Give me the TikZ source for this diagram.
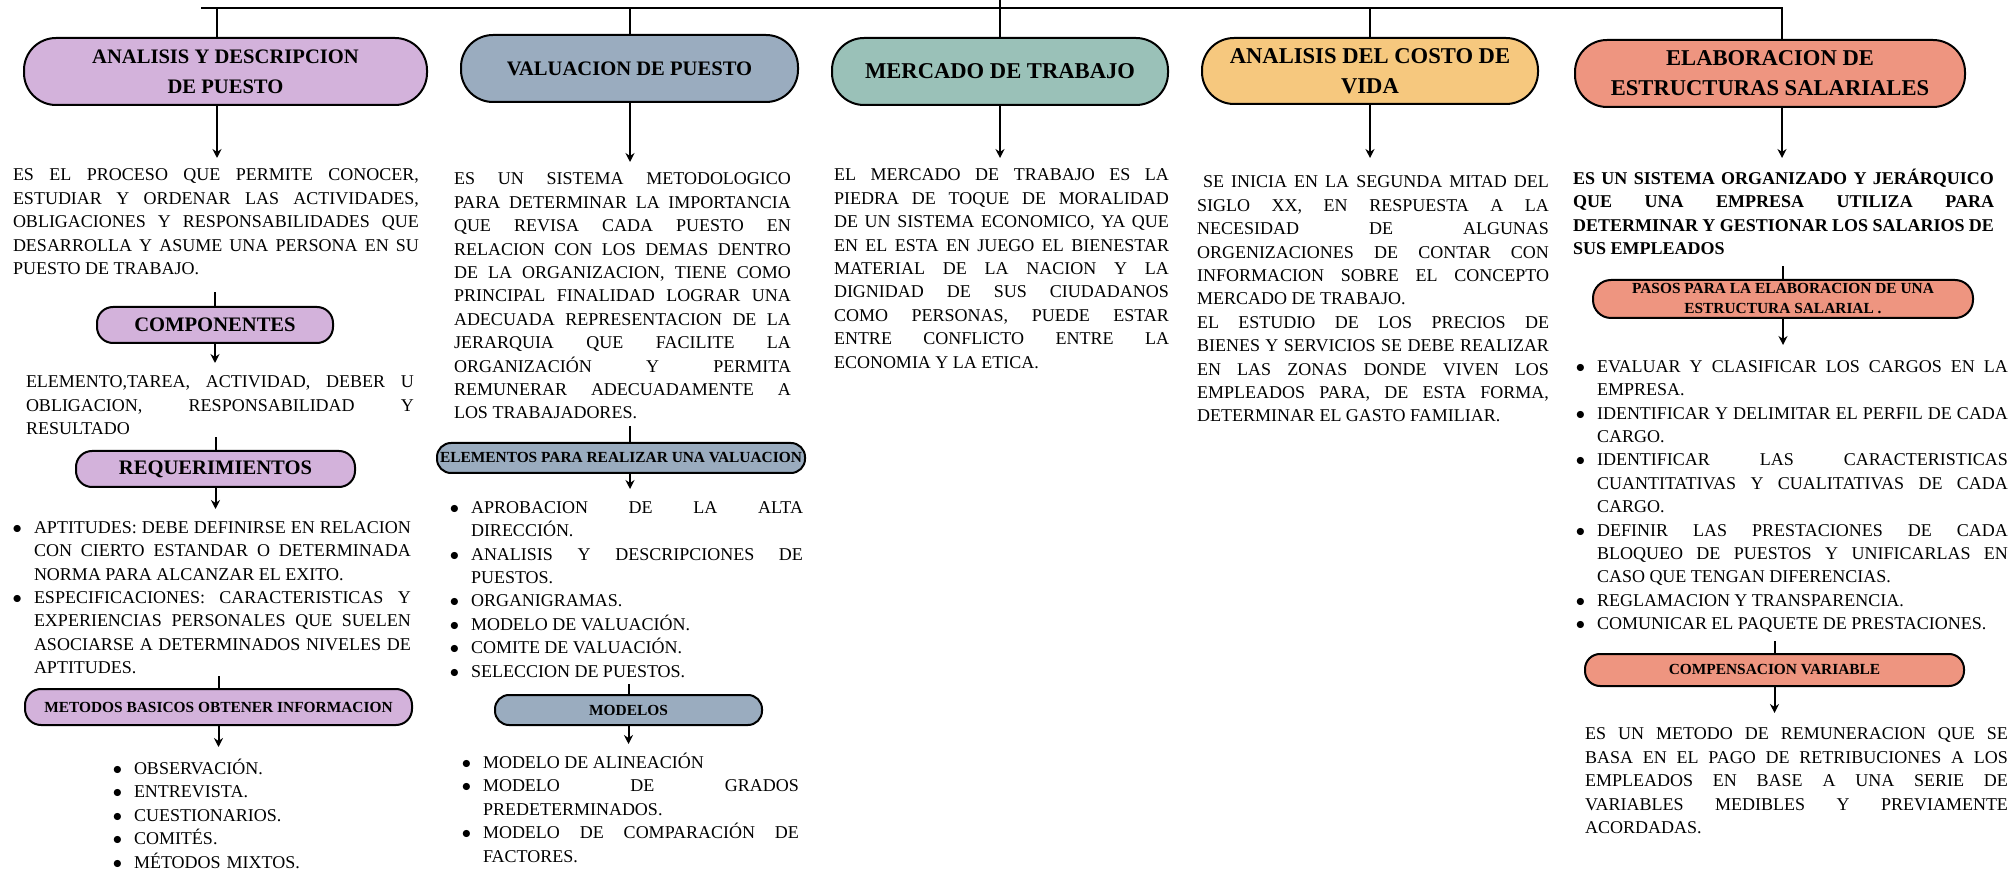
\documentclass[tikz,border=0pt]{standalone}
\usepackage{fontspec}
\setmainfont{Liberation Serif}
\usepackage{enumitem}
\usetikzlibrary{arrows.meta}
\definecolor{lav}{HTML}{D3B2DB}
\definecolor{slate}{HTML}{9AACBF}
\definecolor{sage}{HTML}{9AC1B8}
\definecolor{gold}{HTML}{F6C87E}
\definecolor{salmon}{HTML}{EE9580}
\setlist[itemize]{label=$\bullet$, nosep, labelsep=6pt}
\hyphenpenalty=10000
\tolerance=10000
\hbadness=10000
\tikzset{
	headbox/.style={draw, fill=#1, rounded corners=16pt, inner sep=0pt, minimum height=33.5pt, align=center, font=\fontsize{11.3}{15}\selectfont\bfseries},
	subbox/.style={draw, fill=#1, rounded corners=8pt, inner sep=0pt, minimum height=18pt, align=center, font=\fontsize{7.7}{10}\selectfont\bfseries},
	bodytext/.style={anchor=north west, inner sep=0pt, text width=#1, align=justify, font=\fontsize{9}{11.7}\selectfont}
}

\begin{document}
\begin{tikzpicture}[x=0.5pt, y=-0.5pt, line width=1pt, >={Stealth[length=4.5pt, width=4.5pt]}]
			\useasboundingbox (0,0) rectangle (2009,871);
			\coordinate (c1) at (217,0);
			\coordinate (c2) at (630,0);
			\coordinate (c3) at (1000,0);
			\coordinate (c4) at (1370,0);
			\coordinate (c5) at (1782,0);
			\coordinate (bl) at (201,8);
			\coordinate (br) at (1782,8);

			\node[headbox=lav, minimum width=201.5pt, font=\fontsize{10.3}{15}\selectfont\bfseries] (h1) at (225.5,71.5) {ANALISIS Y DESCRIPCION\\DE PUESTO};
			\node[headbox=slate, minimum width=168.5pt, font=\fontsize{10.3}{15}\selectfont\bfseries] (h2) at (629.5,68.5) {VALUACION DE PUESTO};
			\node[headbox=sage, minimum width=168pt] (h3) at (1000,71.5) {MERCADO DE TRABAJO};
			\node[headbox=gold, minimum width=168pt, minimum height=33pt] (h4) at (1370,71) {ANALISIS DEL COSTO DE\\VIDA};
			\node[headbox=salmon, minimum width=195pt] (h5) at (1770,73.5) {ELABORACION DE\\ESTRUCTURAS SALARIALES};

			\draw (bl) -- (br) -- (h5.north -| br);
			\draw (c1 |- bl) -- (h1.north -| c1);
			\draw (c2 |- bl) -- (h2.north -| c2);
			\draw (c3) -- (h3.north);
			\draw (c4 |- bl) -- (h4.north -| c4);

			\node[bodytext=203pt] (d1) at (12,168) {ES EL PROCESO QUE PERMITE CONOCER,\linebreak ESTUDIAR Y ORDENAR LAS ACTIVIDADES,\linebreak OBLIGACIONES Y RESPONSABILIDADES QUE\linebreak DESARROLLA Y ASUME UNA PERSONA EN SU\linebreak PUESTO DE TRABAJO.};
			\node[subbox=lav, minimum width=118pt, font=\fontsize{10.3}{12}\selectfont\bfseries] (k1) at (215,325) {COMPONENTES};
			\node[bodytext=194pt] (e1) at (25,375) {ELEMENTO,TAREA, ACTIVIDAD, DEBER U\linebreak OBLIGACION, RESPONSABILIDAD Y\linebreak RESULTADO};
			\node[subbox=lav, minimum width=139.5pt, font=\fontsize{10.3}{12}\selectfont\bfseries] (k2) at (215.5,469) {REQUERIMIENTOS};
			\node[bodytext=198.5pt] (r1) at (13,509) {\begin{itemize}[leftmargin=10pt]
				\item APTITUDES: DEBE DEFINIRSE EN RELACION\linebreak CON CIERTO ESTANDAR O DETERMINADA\linebreak NORMA PARA ALCANZAR EL EXITO.
				\item ESPECIFICACIONES: CARACTERISTICAS Y\linebreak EXPERIENCIAS PERSONALES QUE SUELEN\linebreak ASOCIARSE A DETERMINADOS NIVELES DE\linebreak APTITUDES.
			\end{itemize}};
			\node[subbox=lav, minimum width=193.5pt] (k7) at (218.5,707) {METODOS BASICOS OBTENER INFORMACION};
			\node[bodytext=160pt, align=left] (m1) at (115,750) {\begin{itemize}[leftmargin=9pt]
				\item OBSERVACIÓN.
				\item ENTREVISTA.
				\item CUESTIONARIOS.
				\item COMITÉS.
				\item MÉTODOS MIXTOS.
			\end{itemize}};

			\draw[->, shorten >=5pt] (h1.south -| c1) -- (d1.north -| c1);
			\draw (k1.north) -- ++(0,-14);
			\draw[->, shorten >=6pt] (k1.south) -- (e1.north -| k1.south);
			\draw (k2.north) -- ++(0,-13);
			\draw[->] (k2.south) -- (r1.north -| k2.south);
			\draw (k7.north) -- ++(0,-12);
			\draw[->, shorten >=1.5pt] (k7.south) -- (m1.north -| k7.south);

			\node[bodytext=168.5pt] (d2) at (453,172) {ES UN SISTEMA METODOLOGICO\linebreak PARA DETERMINAR LA IMPORTANCIA\linebreak QUE REVISA CADA PUESTO EN\linebreak RELACION CON LOS DEMAS DENTRO\linebreak DE LA ORGANIZACION, TIENE COMO\linebreak PRINCIPAL FINALIDAD LOGRAR UNA\linebreak ADECUADA REPRESENTACION DE LA\linebreak JERARQUIA QUE FACILITE LA\linebreak ORGANIZACIÓN Y PERMITA\linebreak REMUNERAR ADECUADAMENTE A\linebreak LOS TRABAJADORES.};
			\node[subbox=slate, minimum width=184pt, minimum height=15pt, rounded corners=7pt] (k3) at (621,458) {ELEMENTOS PARA REALIZAR UNA VALUACION};
			\node[bodytext=175pt] (v1) at (452,489) {\begin{itemize}[leftmargin=9pt]
				\item APROBACION DE LA ALTA\linebreak DIRECCIÓN.
				\item ANALISIS Y DESCRIPCIONES DE\linebreak PUESTOS.
				\item ORGANIGRAMAS.
				\item MODELO DE VALUACIÓN.
				\item COMITE DE VALUACIÓN.
				\item SELECCION DE PUESTOS.
			\end{itemize}};
			\node[subbox=slate, minimum width=133.5pt, minimum height=15pt, rounded corners=7pt] (k4) at (628.5,710) {MODELOS};
			\node[bodytext=168pt] (mo) at (462,744) {\begin{itemize}[leftmargin=10pt]
				\item MODELO DE ALINEACIÓN
				\item MODELO DE GRADOS\linebreak PREDETERMINADOS.
				\item MODELO DE COMPARACIÓN DE\linebreak FACTORES.
			\end{itemize}};

			\draw[->, shorten >=5pt] (h2.south -| c2) -- (d2.north -| c2);
			\draw (k3.north -| c2) -- ++(0,-16);
			\draw[->] (k3.south -| c2) -- (v1.north -| c2);
			\draw (k4.north) -- ++(0,-10);
			\draw[->] (k4.south) -- (mo.north -| k4.south);

			\node[bodytext=167.5pt] (d3) at (833,168) {EL MERCADO DE TRABAJO ES LA\linebreak PIEDRA DE TOQUE DE MORALIDAD\linebreak DE UN SISTEMA ECONOMICO, YA QUE\linebreak EN EL ESTA EN JUEGO EL BIENESTAR\linebreak MATERIAL DE LA NACION Y LA\linebreak DIGNIDAD DE SUS CIUDADANOS\linebreak COMO PERSONAS, PUEDE ESTAR\linebreak ENTRE CONFLICTO ENTRE LA\linebreak ECONOMIA Y LA ETICA.};
			\draw[->, shorten >=5pt] (h3.south) -- (d3.north -| h3.south);

			\node[bodytext=176pt] (d4) at (1196,175) {\hspace*{3pt}SE INICIA EN LA SEGUNDA MITAD DEL\linebreak SIGLO XX, EN RESPUESTA A LA\linebreak NECESIDAD DE ALGUNAS\linebreak ORGENIZACIONES DE CONTAR CON\linebreak INFORMACION SOBRE EL CONCEPTO\linebreak MERCADO DE TRABAJO.\par EL ESTUDIO DE LOS PRECIOS DE\linebreak BIENES Y SERVICIOS SE DEBE REALIZAR\linebreak EN LAS ZONAS DONDE VIVEN LOS\linebreak EMPLEADOS PARA, DE ESTA FORMA,\linebreak DETERMINAR EL GASTO FAMILIAR.};
			\draw[->, shorten >=8.5pt] (h4.south -| c4) -- (d4.north -| c4);

			\node[bodytext=210.5pt, font=\fontsize{9}{11.7}\selectfont\bfseries] (d5) at (1572,168) {ES UN SISTEMA ORGANIZADO Y JERÁRQUICO\linebreak QUE UNA EMPRESA UTILIZA PARA\linebreak DETERMINAR Y GESTIONAR LOS SALARIOS DE\linebreak SUS EMPLEADOS};
			\node[subbox=salmon, minimum width=190pt, minimum height=19pt, rounded corners=9pt] (k5) at (1783,299) {PASOS PARA LA ELABORACION DE UNA\\ESTRUCTURA SALARIAL .};
			\node[bodytext=216pt] (p5) at (1575,348) {\begin{itemize}[leftmargin=10.5pt]
				\item EVALUAR Y CLASIFICAR LOS CARGOS EN LA\linebreak EMPRESA.
				\item IDENTIFICAR Y DELIMITAR EL PERFIL DE CADA\linebreak CARGO.
				\item IDENTIFICAR LAS CARACTERISTICAS\linebreak CUANTITATIVAS Y CUALITATIVAS DE CADA\linebreak CARGO.
				\item DEFINIR LAS PRESTACIONES DE CADA\linebreak BLOQUEO DE PUESTOS Y UNIFICARLAS EN\linebreak CASO QUE TENGAN DIFERENCIAS.
				\item REGLAMACION Y TRANSPARENCIA.
				\item COMUNICAR EL PAQUETE DE PRESTACIONES.
			\end{itemize}};
			\node[subbox=salmon, minimum width=189.5pt, minimum height=16pt, rounded corners=7.5pt] (k6) at (1774.5,670) {COMPENSACION VARIABLE};
			\node[bodytext=211.5pt] (cv) at (1584,727) {ES UN METODO DE REMUNERACION QUE SE\linebreak BASA EN EL PAGO DE RETRIBUCIONES A LOS\linebreak EMPLEADOS EN BASE A UNA SERIE DE\linebreak VARIABLES MEDIBLES Y PREVIAMENTE\linebreak ACORDADAS.};

			\draw[->, shorten >=5pt] (h5.south -| c5) -- (d5.north -| c5);
			\draw (k5.north) -- ++(0,-13);
			\draw[->, shorten >=1.5pt] (k5.south) -- (p5.north -| k5.south);
			\draw (k6.north) -- ++(0,-12);
			\draw[->, shorten >=7pt] (k6.south) -- (cv.north -| k6.south);
		\end{tikzpicture}
\end{document}
